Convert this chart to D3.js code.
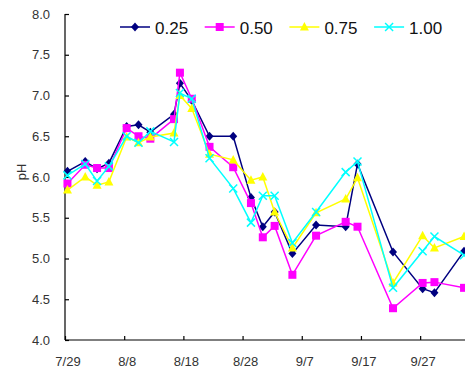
<!DOCTYPE html>
<html><head><meta charset="utf-8">
<script src="https://cdn.jsdelivr.net/npm/d3@7"></script>
<style>body{margin:0;background:#fff}svg{display:block}text{font-family:"Liberation Sans",Arial,sans-serif}</style>
</head><body><svg id="c" width="465" height="372"></svg>
<script>
const dates = ["7/29","8/1","8/3","8/5","8/8","8/10","8/12","8/16","8/17","8/19","8/22","8/26","8/29","8/31","9/2","9/5","9/9","9/14","9/16","9/22","9/27","9/29","10/4"];
const s025 = [6.07,6.19,6.10,6.17,6.62,6.64,6.55,6.77,7.15,6.94,6.50,6.50,5.75,5.39,5.57,5.06,5.41,5.39,6.16,5.08,4.63,4.58,5.09];
const s050 = [5.92,6.15,6.11,6.11,6.60,6.50,6.47,6.71,7.28,6.96,6.37,6.12,5.68,5.26,5.40,4.80,5.28,5.45,5.39,4.39,4.70,4.71,4.64];
const s075 = [5.84,6.00,5.90,5.94,6.49,6.42,6.49,6.54,7.00,6.84,6.28,6.21,5.96,6.00,5.57,5.13,5.56,5.73,5.99,4.70,5.28,5.13,5.27];
const s100 = [6.02,6.16,5.95,6.13,6.50,6.42,6.56,6.43,7.03,6.96,6.23,5.86,5.44,5.77,5.77,5.19,5.57,6.06,6.19,4.64,5.09,5.27,5.04];
const seriesNames = ["0.25","0.50","0.75","1.00"];
const xTickLabels = ["7/29","8/8","8/18","8/28","9/7","9/17","9/27"];
const yTicks = [4.0,4.5,5.0,5.5,6.0,6.5,7.0,7.5,8.0];

const colors = ["#000080","#FF00FF","#FFFF00","#00FFFF"];
const shapes = ["diamond","square","triangle","cross"];
const YEAR = 2009;
const parse = s => { const [m,d] = s.split("/").map(Number); return new Date(YEAR, m-1, d); };
const sampleTime = s => { const t = parse(s); t.setHours(10); return t; };

const svg = d3.select("#c");
const x = d3.scaleTime().domain([parse("7/29"), parse("10/5")]).range([65, 467.5]);
const y = d3.scaleLinear().domain([4, 8]).range([340, 14]);

// axes
const yAxis = svg.append("g").attr("transform","translate(65,0)")
  .call(d3.axisRight(y).tickValues(yTicks).tickSize(4).tickFormat(""));
yAxis.select(".domain").attr("d","M0,14V340");
yAxis.selectAll("line,path").attr("stroke","#000").attr("stroke-width",1.2);
svg.append("g").selectAll("text").data(yTicks).join("text")
  .attr("x",50).attr("y",d=>y(d)+4.5).attr("text-anchor","end")
  .attr("font-size",13).attr("fill","#333").text(d=>d.toFixed(1));

const xAxis = svg.append("g").attr("transform","translate(0,340)")
  .call(d3.axisTop(x).tickValues(xTickLabels.map(parse)).tickSize(4).tickFormat(""));
xAxis.select(".domain").attr("d","M65,0H465");
xAxis.selectAll("line,path").attr("stroke","#000").attr("stroke-width",1.2);
svg.append("g").selectAll("text").data(xTickLabels).join("text")
  .attr("x",d=>x(parse(d))+3).attr("y",366).attr("text-anchor","middle")
  .attr("font-size",13).attr("fill","#333").text(d=>d);

svg.append("text").attr("transform","translate(26,172) rotate(-90)")
  .attr("text-anchor","middle").attr("font-size",13).attr("fill","#333").text("pH");

function marker(g, shape, color){
  if(shape==="diamond") g.append("path").attr("d","M0,-4.5L4,0L0,4.5L-4,0Z").attr("fill",color);
  else if(shape==="square") g.append("rect").attr("x",-4).attr("y",-4).attr("width",8).attr("height",8).attr("fill",color);
  else if(shape==="triangle") g.append("path").attr("d","M0,-5L4.5,3.5L-4.5,3.5Z").attr("fill",color);
  else g.append("path").attr("d","M-4,-4L4,4M-4,4L4,-4").attr("stroke",color).attr("stroke-width",1.5);
}

const all = [s025,s050,s075,s100];
const line = d3.line().x(d=>x(sampleTime(d.date))).y(d=>y(d.v));
all.forEach((vals,i)=>{
  const pts = vals.map((v,j)=>({date:dates[j], v}));
  svg.append("path").datum(pts).attr("d",line).attr("fill","none")
    .attr("stroke",colors[i]).attr("stroke-width",1.5);
  pts.forEach(p=>{
    const g = svg.append("g").attr("transform",`translate(${x(sampleTime(p.date))},${y(p.v)})`);
    marker(g, shapes[i], colors[i]);
  });
});

// legend
const leg = svg.append("g");
seriesNames.forEach((n,i)=>{
  const x0 = 120 + i*84.7;
  const g = leg.append("g").attr("transform",`translate(${x0},27)`);
  g.append("line").attr("x1",0).attr("x2",30).attr("stroke",colors[i]).attr("stroke-width",1.5);
  const mg = g.append("g").attr("transform","translate(15,0)");
  marker(mg, shapes[i], colors[i]);
  g.append("text").attr("x",35).attr("y",6.5).attr("font-size",17).attr("fill","#111").text(n);
});
</script></body></html>
